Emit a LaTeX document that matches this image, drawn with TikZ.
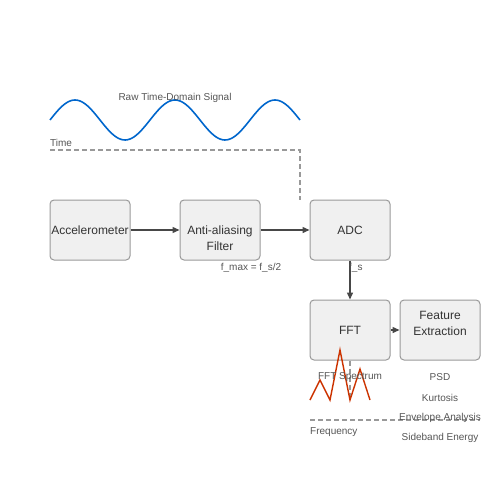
\documentclass[tikz,border=0pt]{standalone}
\usepackage{fontspec}
\setmainfont{Liberation Sans}
\usetikzlibrary{arrows.meta}
\definecolor{boxfill}{HTML}{F0F0F0}
\definecolor{boxline}{HTML}{999999}
\definecolor{txtdark}{HTML}{333333}
\definecolor{txtgray}{HTML}{555555}
\definecolor{wave}{HTML}{0066CC}
\definecolor{spec}{HTML}{CC3300}

\begin{document}
\begin{tikzpicture}[x=1pt,y=-1pt,
	boxtxt/.style={align=center,font=\fontsize{12}{15.5}\selectfont,text=txtdark,inner sep=0pt},
	block/.style={draw=boxline,fill=boxfill,rounded corners=4pt,line width=1pt,minimum width=80pt,minimum height=60pt,boxtxt},
	flow/.style={draw=txtdark!90,line width=1.4pt,-{Triangle[length=7pt,width=6pt]}},
	lbl/.style={font=\fontsize{10}{12}\selectfont,text=txtgray,inner sep=0pt,yshift=-1.5pt},
	axis/.style={draw=boxline,dashed,line width=1.2pt,dash pattern=on 5pt off 3pt}]
	\useasboundingbox (0,0) rectangle (500,500);
	% signal chain
	\node [block] (acc) at (90,230) {Accelerometer};
	\node [block,label={[boxtxt,yshift=-8pt]center:Anti-aliasing\\Filter}] (filt) at (220,230) {};
	\node [block] (adc) at (350,230) {ADC};
	\node [block] (fft) at (350,330) {FFT};
	\node [block,label={[boxtxt,yshift=6.5pt]center:Feature\\Extraction}] (feat) at (440,330) {};
	\draw [flow] (acc) -- (filt);
	\draw [flow] (filt) -- (adc);
	\draw [flow] (adc) -- (fft);
	\draw [flow] (fft) -- (feat);
	\node [lbl] (fmax) at (251,266) {f\_max = f\_s/2};
	\node [lbl,anchor=west] (fs) at (349,266) {f\_s};
	% raw signal
	\draw [wave,line width=1.6pt,domain=50:300,samples=120,smooth] plot (\x,{120-20*sin(3.6*(\x-50))});
	\node [lbl] (raw) at (175,96) {Raw Time-Domain Signal};
	\node [lbl,anchor=west] (time) at (50,141) {Time};
	\coordinate (t0) at (50,150);
	\coordinate (t1) at (300,150);
	\draw [axis] (t0) -- (t1) -- (adc.north -| t1);
	% spectrum
	\coordinate (f0) at (310,420);
	\coordinate (f1) at (480,420);
	\coordinate (fb) at (350,400);
	\draw [axis] (fft.south) -- (fb);
	\draw [axis] (f0) -- (f1);
	\draw [spec,line width=1.4pt] (310,400) -- (320,380) -- (330,400) -- (340,350) -- (350,400) -- (360,369) -- (370,400);
	\node [lbl] (spectrum) at (350,376) {FFT Spectrum};
	\node [lbl,anchor=west] (freq) at (310,431) {Frequency};
	\foreach \name [count=\i] in {PSD,Kurtosis,Envelope Analysis,Sideband Energy}
		\node [lbl] (f\i) at (440,356+20*\i) {\name};
\end{tikzpicture}
\end{document}
